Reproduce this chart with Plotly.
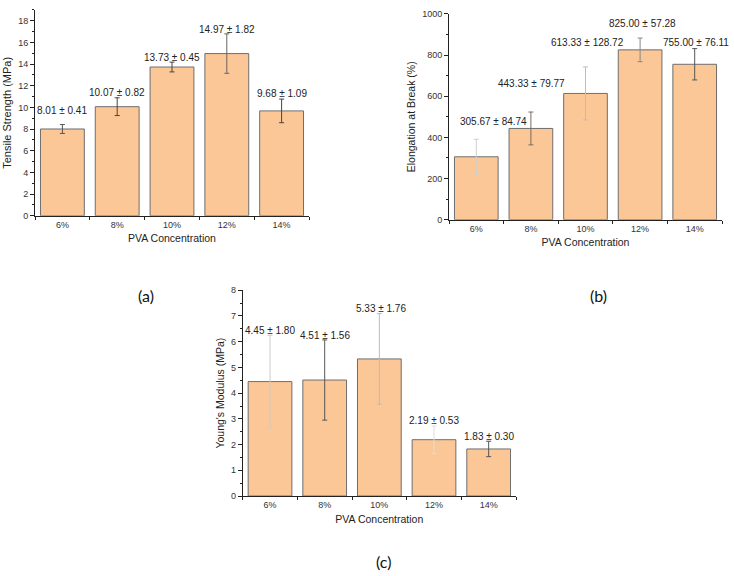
import plotly.graph_objects as go

# ---------------- data ----------------
categories = ["6%", "8%", "10%", "12%", "14%"]

tensile_mean = [8.01, 10.07, 13.73, 14.97, 9.68]
tensile_sd = [0.41, 0.82, 0.45, 1.82, 1.09]

elong_mean = [305.67, 443.33, 613.33, 825.00, 755.00]
elong_sd = [84.74, 79.77, 128.72, 57.28, 76.11]

modulus_mean = [4.45, 4.51, 5.33, 2.19, 1.83]
modulus_sd = [1.80, 1.56, 1.76, 0.53, 0.30]

# ---------------- styling / label placement ----------------
BAR_COLOR = "#FCC796"
BAR_LINE = "#6e6e6e"
FONT = "Liberation Sans, Arial, sans-serif"

panels = [
    dict(ax="", mean=tensile_mean, sd=tensile_sd,
         ytitle="Tensile Strength (MPa)", yrange=[0, 19], dtick=2, minor=1,
         xdom=[35 / 734, 309 / 734], ydom=[1 - 214.5 / 576, 1 - 5 / 576],
         label_y=[9.73, 11.36, 14.64, 17.2, 11.24], label_dx=[0, 0, 0, 0, 0],
         err_colors=["#555555", "#444444", "#444444", "#666666", "#444444"],
         ytitle_size=11),
    dict(ax="2", mean=elong_mean, sd=elong_sd,
         ytitle="Elongation at Break (%)", yrange=[0, 1000], dtick=200, minor=100,
         xdom=[449 / 734, 722 / 734], ydom=[1 - 218.5 / 576, 1 - 9 / 576],
         label_y=[476, 662, 860, 952, 860], label_dx=[17, 1, 2, 2, 1],
         err_colors=["#cfcfcf", "#7a6a60", "#bdbdbd", "#888888", "#555555"],
         ytitle_size=10.5),
    dict(ax="3", mean=modulus_mean, sd=modulus_sd,
         ytitle="Young's Modulus (MPa)", yrange=[0, 8], dtick=1, minor=0.5,
         xdom=[242.7 / 734, 516 / 734], ydom=[1 - 499.7 / 576, 1 - 290.3 / 576],
         label_y=[6.44, 6.26, 7.28, 2.92, 2.32], label_dx=[0, 0, 2, 0, 0],
         err_colors=["#cccccc", "#555555", "#bbbbbb", "#dddddd", "#555555"],
         ytitle_size=10.5),
]

fig = go.Figure()
annotations = []
layout = {}

for p in panels:
    xa, ya = "x" + p["ax"], "y" + p["ax"]
    fig.add_trace(go.Bar(
        x=categories, y=p["mean"], xaxis=xa, yaxis=ya,
        marker=dict(color=BAR_COLOR, line=dict(color=BAR_LINE, width=1)),
        width=0.8, showlegend=False, hoverinfo="skip"))
    for cat, m, s, col in zip(categories, p["mean"], p["sd"], p["err_colors"]):
        fig.add_trace(go.Scatter(
            x=[cat], y=[m], xaxis=xa, yaxis=ya, mode="markers",
            marker=dict(opacity=0, size=1),
            error_y=dict(type="data", array=[s], color=col, thickness=1, width=2.5),
            showlegend=False, hoverinfo="skip"))
    for cat, m, s, ly, dx in zip(categories, p["mean"], p["sd"], p["label_y"], p["label_dx"]):
        annotations.append(dict(
            x=cat, y=ly, xref=xa, yref=ya, text=f"{m:.2f} ± {s:.2f}",
            showarrow=False, xshift=dx, font=dict(family=FONT, size=10, color="#222222")))

    key = p["ax"]
    layout["xaxis" + key] = dict(
        domain=p["xdom"], anchor=ya, type="category", range=[-0.5, 4.5],
        showline=True, linecolor="#222222", linewidth=1,
        ticks="outside", ticklen=3, tickcolor="#222222", tickson="boundaries",
        tickfont=dict(family=FONT, size=9, color="#333333"),
        title=dict(text="PVA Concentration", font=dict(family=FONT, size=10.5, color="#222222"),
                   standoff=6),
        showgrid=False, zeroline=False, fixedrange=True)
    layout["yaxis" + key] = dict(
        domain=p["ydom"], anchor=xa, range=p["yrange"], dtick=p["dtick"], tick0=0,
        showline=True, linecolor="#222222", linewidth=1,
        ticks="outside", ticklen=4, tickcolor="#222222",
        minor=dict(ticks="outside", ticklen=2, dtick=p["minor"], tick0=0, tickcolor="#222222"),
        tickfont=dict(family=FONT, size=9, color="#333333"),
        title=dict(text=p["ytitle"], font=dict(family=FONT, size=p["ytitle_size"], color="#222222"),
                   standoff=4),
        showgrid=False, zeroline=False, fixedrange=True)

for txt, x, y in [("(a)", 146 / 734, 1 - 296 / 576),
                  ("(b)", 598 / 734, 1 - 296 / 576),
                  ("(c)", 383 / 734, 1 - 566 / 576)]:
    annotations.append(dict(x=x, y=y, xref="paper", yref="paper", text=txt, showarrow=False,
                            xanchor="center", yanchor="middle",
                            font=dict(family="Lato, Open Sans, sans-serif", size=16, color="#111111")))

fig.update_layout(
    width=734, height=576, margin=dict(l=0, r=0, t=0, b=0),
    paper_bgcolor="white", plot_bgcolor="white",
    bargap=0.2, annotations=annotations, **layout)

fig.write_html("out.html")
